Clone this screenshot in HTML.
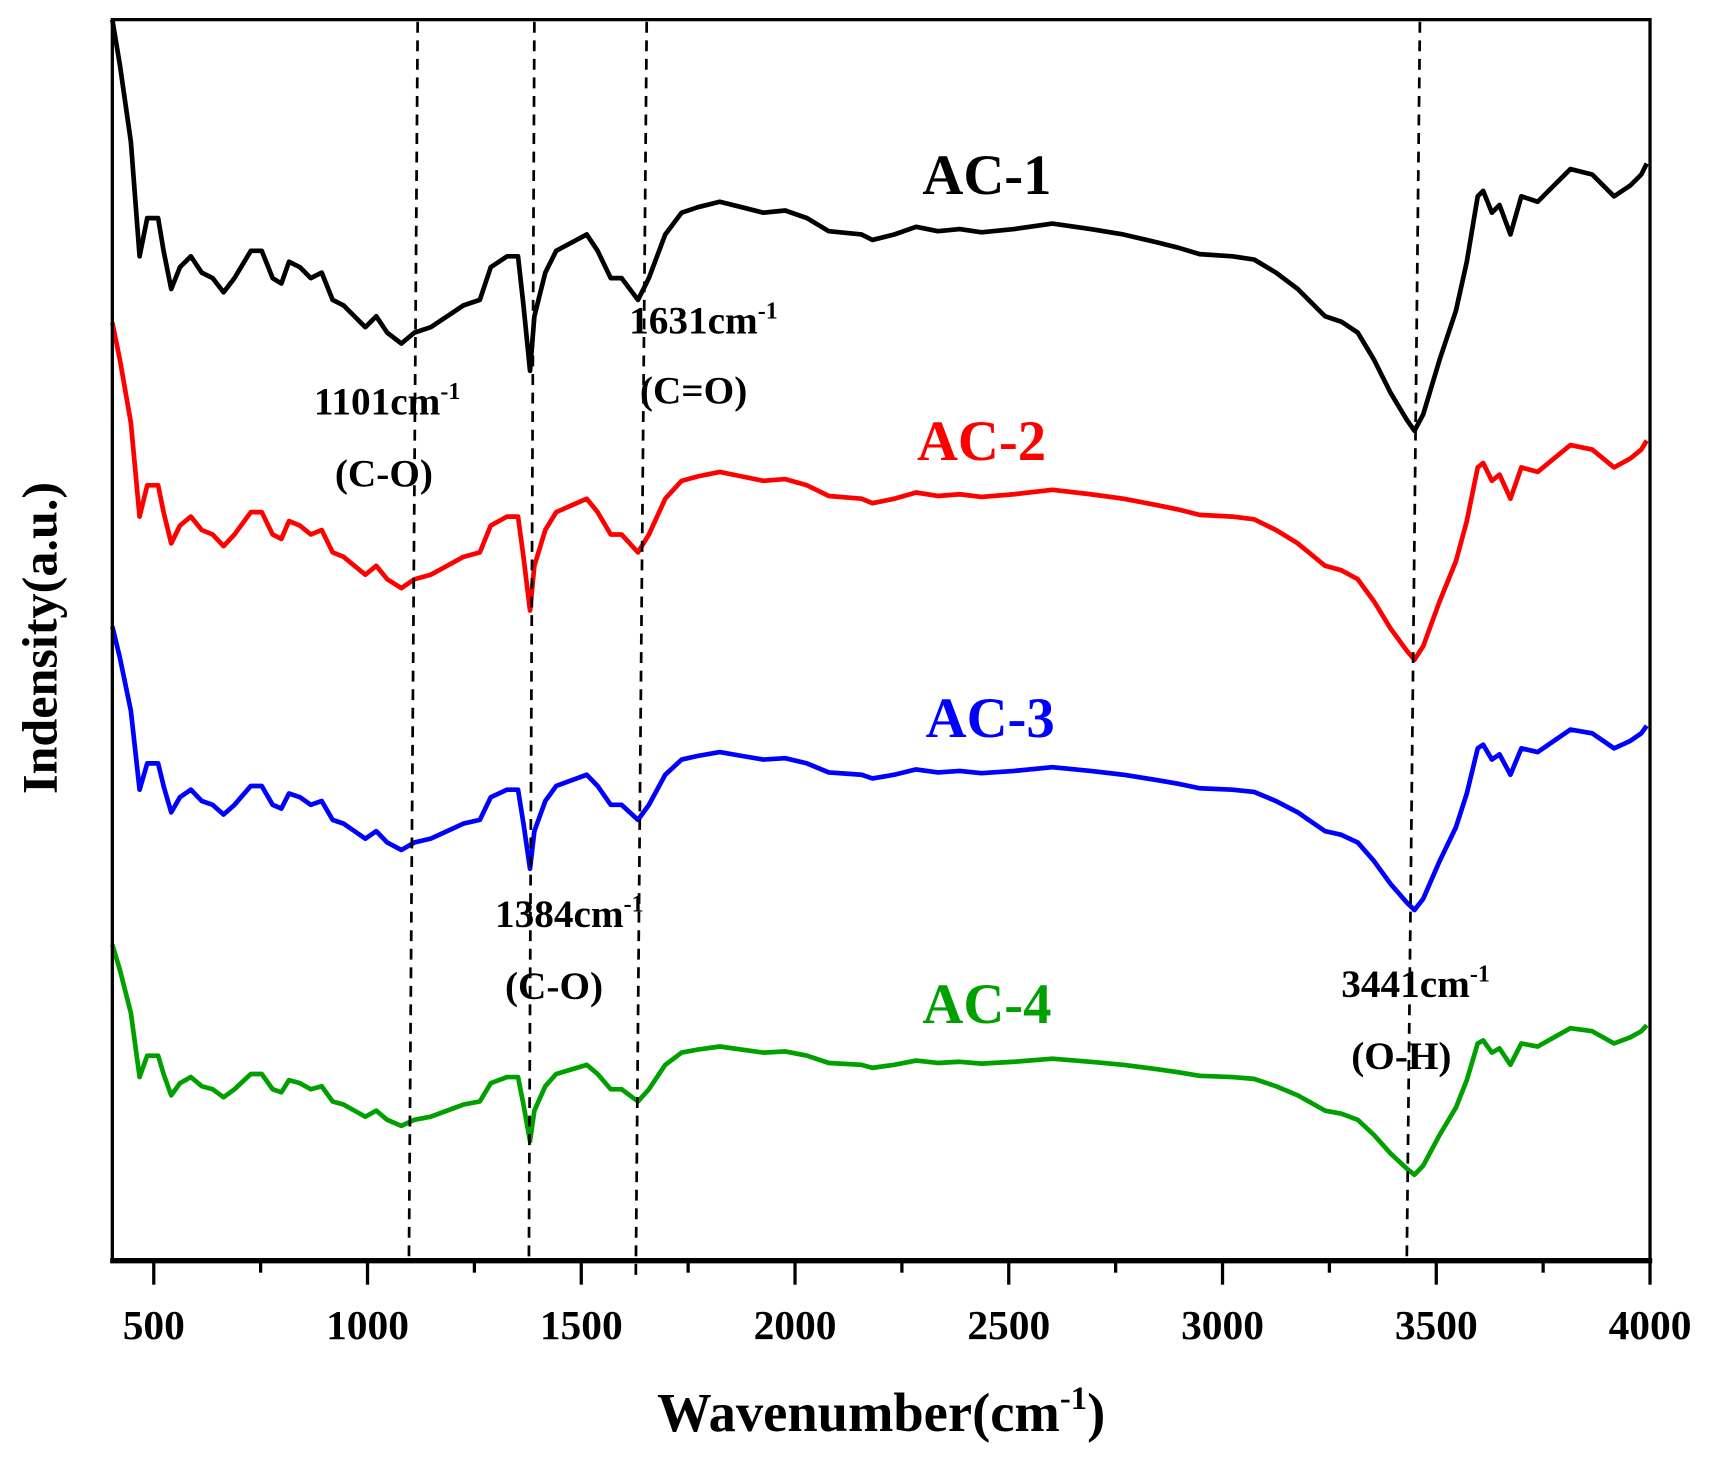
<!DOCTYPE html>
<html><head><meta charset="utf-8"><style>
html,body{margin:0;padding:0;background:#fff;}
svg{display:block}
text{font-family:"Liberation Serif",serif;font-weight:bold;}
</style></head><body>
<svg id="s" width="1710" height="1457" viewBox="0 0 1568 1336" xmlns="http://www.w3.org/2000/svg">
<rect x="0" y="0" width="1568" height="1336" fill="#fff"/>
<g id="curves" fill="none" stroke-width="4.3" stroke-linejoin="round"></g>
<g stroke="#000" stroke-width="2.5" stroke-dasharray="10,7">
<line x1="383" y1="20" x2="375" y2="1152"/>
<line x1="490" y1="20" x2="485" y2="1152"/>
<line x1="593" y1="20" x2="583" y2="1170"/>
<line x1="1302" y1="20" x2="1290" y2="1152"/>
</g>
<rect x="103" y="18" width="1410" height="1138" fill="none" stroke="#000" stroke-width="3"/>
<line x1="101" y1="1156" x2="1515" y2="1156" stroke="#000" stroke-width="5"/>
<g id="ticks" stroke="#000" stroke-width="3"></g>
<g font-size="38" text-anchor="middle" id="tl"></g>
<text x="808" y="1312" font-size="50" text-anchor="middle">Wavenumber(cm<tspan dy="-20" font-size="30">-1</tspan><tspan dy="20">)</tspan></text>
<text transform="translate(52,585) rotate(-90)" font-size="46" text-anchor="middle">Indensity(a.u.)</text>
<text x="905" y="178" font-size="52" text-anchor="middle" fill="#000">AC-1</text>
<text x="900" y="422" font-size="52" text-anchor="middle" fill="#ff0000">AC-2</text>
<text x="908" y="676" font-size="52" text-anchor="middle" fill="#0000ff">AC-3</text>
<text x="905" y="938" font-size="52" text-anchor="middle" fill="#00a000">AC-4</text>
<g font-size="36" text-anchor="middle">
<text x="355" y="380">1101cm<tspan dy="-14" font-size="22">-1</tspan></text>
<text x="352" y="446">(C-O)</text>
<text x="645" y="306">1631cm<tspan dy="-14" font-size="22">-1</tspan></text>
<text x="636" y="370">(C=O)</text>
<text x="522" y="850">1384cm<tspan dy="-14" font-size="22">-1</tspan></text>
<text x="508" y="916">(C-O)</text>
<text x="1298" y="914">3441cm<tspan dy="-14" font-size="22">-1</tspan></text>
<text x="1285" y="980">(O-H)</text>
</g>
</svg>
<script>
var pts=[[103,18],[110,60],[120,130],[128,235],[135,200],[145,200],[150,230],[157,265],[165,245],[175,235],[185,250],[195,255],[205,268],[215,255],[230,230],[240,230],[250,255],[258,260],[265,240],[275,245],[285,255],[295,250],[305,275],[315,280],[325,290],[335,300],[345,290],[355,305],[368,315],[380,305],[395,300],[410,290],[425,280],[440,275],[450,245],[465,235],[475,235],[480,280],[486,340],[490,290],[500,250],[510,230],[525,222],[538,215],[548,230],[560,255],[570,255],[585,275],[595,255],[610,215],[625,195],[640,190],[660,185],[680,190],[700,195],[720,193],[740,200],[760,212],[790,215],[800,220],[820,215],[840,208],[860,212],[880,210],[900,213],[930,210],[965,205],[1000,210],[1030,215],[1060,222],[1080,227],[1100,233],[1130,235],[1150,238],[1170,250],[1190,265],[1200,275],[1215,290],[1230,295],[1245,305],[1260,330],[1275,360],[1290,385],[1297,395],[1305,380],[1320,330],[1335,285],[1345,240],[1355,180],[1360,175],[1368,195],[1375,188],[1385,215],[1395,180],[1410,185],[1425,170],[1440,155],[1460,160],[1480,180],[1495,170],[1505,160],[1510,150]];
var sets=[["#000",0,1],["#ff0000",281,0.82],["#0000ff",562,0.69],["#00a000",856,0.56]];
var g=document.getElementById('curves'),ns="http://www.w3.org/2000/svg";
sets.forEach(function(s){var d="";pts.forEach(function(p,i){var y=s[1]+s[2]*p[1];if(s[1]==0)y=p[1];d+=(i?"L":"M")+p[0]+","+y.toFixed(1);});
var e=document.createElementNS(ns,"path");e.setAttribute("d",d);e.setAttribute("stroke",s[0]);g.appendChild(e);});
var t=document.getElementById('ticks'),tl=document.getElementById('tl');
for(var w=500;w<=4000;w+=250){var x=141+(w-500)*0.392;var l=document.createElementNS(ns,"line");l.setAttribute("x1",x);l.setAttribute("x2",x);l.setAttribute("y1",1156);l.setAttribute("y2",w%500==0?1178:1167);t.appendChild(l);
if(w%500==0){var tx=document.createElementNS(ns,"text");tx.setAttribute("x",x);tx.setAttribute("y",1228);tx.textContent=w;tl.appendChild(tx);}}
</script>
</body></html>
